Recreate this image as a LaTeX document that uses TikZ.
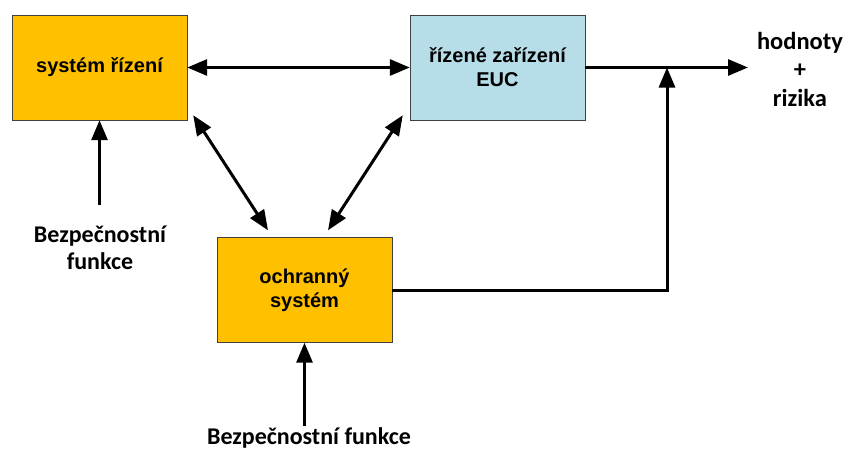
\documentclass[tikz,border=0pt]{standalone}
\usepackage{fontspec}
\setmainfont{Liberation Sans}
\newfontfamily\calibri{Carlito}
\usetikzlibrary{arrows.meta,positioning}
\definecolor{blokoranz}{HTML}{FFC000}
\definecolor{blokmodra}{HTML}{B7DEE8}
\tikzset{
  blok/.style={draw=black!75, fill=#1, minimum width=175pt, minimum height=105pt,
               inner sep=0pt, align=center, font=\bfseries\fontsize{20}{24}\selectfont},
  sipka/.style={line width=3pt, -{Triangle[length=20pt,width=16pt]}},
  dvojsipka/.style={line width=3pt,
               {Triangle[length=20pt,width=16pt]}-{Triangle[length=20pt,width=16pt]}},
  popis/.style={align=center, inner sep=2pt, font=\calibri\bfseries\fontsize{24}{27}\selectfont},
}
\begin{document}
\begin{tikzpicture}[x=1pt,y=-1pt]
  \useasboundingbox (0,0) rectangle (845,453);

  \node[blok=blokoranz] (rizeni) at (99.5,67.5) {systém řízení};
  \node[blok=blokmodra] (euc) at (497.5,67.5) {řízené zařízení\\EUC};
  \node[blok=blokoranz] (ochrana) at (304.5,290) {ochranný\\systém};

  \node[popis, font=\calibri\bfseries\fontsize{24.5}{28.5}\selectfont] (vystup) at (800,69) {hodnoty\\+\\rizika};
  \node[popis] (funkce1) at (100,248) {Bezpečnostní\\funkce};
  \node[popis] (funkce2) at (309,438) {Bezpečnostní funkce};

  \coordinate (konec) at (748,67.5);
  \coordinate (spoj) at (667,67.5);

  \draw[dvojsipka] (rizeni) -- (euc);
  \draw[dvojsipka] ([xshift=6pt,yshift=5pt]rizeni.south east)
        -- ([xshift=-36.5pt,yshift=7pt]ochrana.north);
  \draw[dvojsipka] ([xshift=-7pt,yshift=5pt]euc.south west)
        -- ([xshift=23.5pt,yshift=7pt]ochrana.north);
  \draw[sipka] (euc.east) -- (konec);
  \draw[sipka] (ochrana.east) -| (spoj);

  % bezpecnostni funkce
  \draw[sipka, shorten <=19pt] (funkce1.north -| rizeni.south) -- (rizeni.south);
  \draw[sipka] (funkce2.north -| ochrana.south) -- (ochrana.south);
\end{tikzpicture}
\end{document}
